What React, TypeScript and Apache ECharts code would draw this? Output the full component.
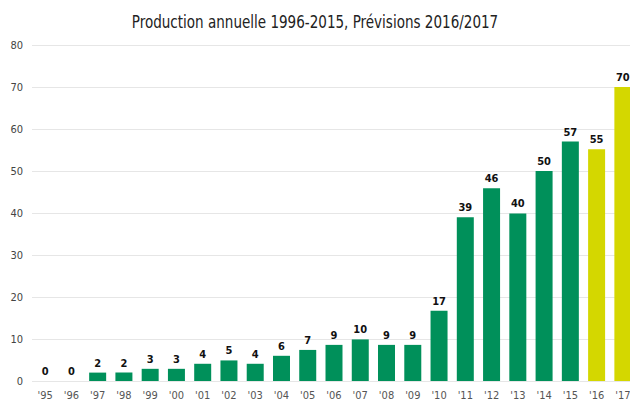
import React, { useEffect, useRef } from "react";
import * as echarts from "echarts";

const categories = ["'95","'96","'97","'98","'99","'00","'01","'02","'03","'04","'05","'06","'07","'08","'09","'10","'11","'12","'13","'14","'15","'16","'17"];
const production = [0,0,2,2,2.9,2.9,4.1,4.9,4.1,6,7.4,8.6,9.9,8.6,8.6,16.7,39,45.9,39.9,50,57,55.2,70];
const forecastYears = ["'16","'17"];
const yTicks = { min: 0, max: 80, interval: 10 };
const titleText = "Production annuelle 1996-2015, Prévisions 2016/2017";

const GREEN = "#00905a";
const YELLOW = "#d4d700";
const FONT = "'DejaVu Sans Condensed', 'DejaVu Sans', sans-serif";

export default function App() {
  const ref = useRef<HTMLDivElement>(null);
  useEffect(() => {
    document.body.style.margin = "0";
    const chart = echarts.init(ref.current!, null, { renderer: "svg" });
    chart.setOption({
      animation: false,
      graphic: [
        {
          type: "text",
          x: 315,
          y: 13,
          scaleX: 0.835,
          style: {
            text: titleText,
            font: "normal 18px " + FONT,
            fill: "#222",
            textAlign: "center",
            textVerticalAlign: "top",
          },
        },
      ],
      grid: { left: 32, right: 0, top: 45, bottom: 31, containLabel: false },
      xAxis: {
        type: "category",
        data: categories,
        axisLine: { show: false },
        axisTick: { show: false },
        axisLabel: { color: "#555", fontSize: 11, margin: 9, fontFamily: FONT },
      },
      yAxis: {
        type: "value",
        min: yTicks.min,
        max: yTicks.max,
        interval: yTicks.interval,
        axisLine: { show: false },
        axisTick: { show: false },
        splitLine: { lineStyle: { color: "#e6e6e6", width: 1 } },
        axisLabel: { color: "#444", fontSize: 11, margin: 9, fontFamily: FONT },
      },
      series: [
        {
          type: "bar",
          barWidth: 17,
          data: production.map((v, i) => ({
            value: v,
            itemStyle: { color: forecastYears.includes(categories[i]) ? YELLOW : GREEN },
          })),
          label: {
            show: true,
            position: "top",
            distance: 4,
            color: "#111",
            fontWeight: "bold",
            fontSize: 11,
            fontFamily: FONT,
            formatter: (p: any) => String(Math.round(p.value)),
          },
        },
      ],
    });
    return () => chart.dispose();
  }, []);
  return (
    <div style={{ width: 630, height: 412, overflow: "hidden", position: "relative" }}>
      <div ref={ref} style={{ width: 636, height: 412 }} />
    </div>
  );
}
